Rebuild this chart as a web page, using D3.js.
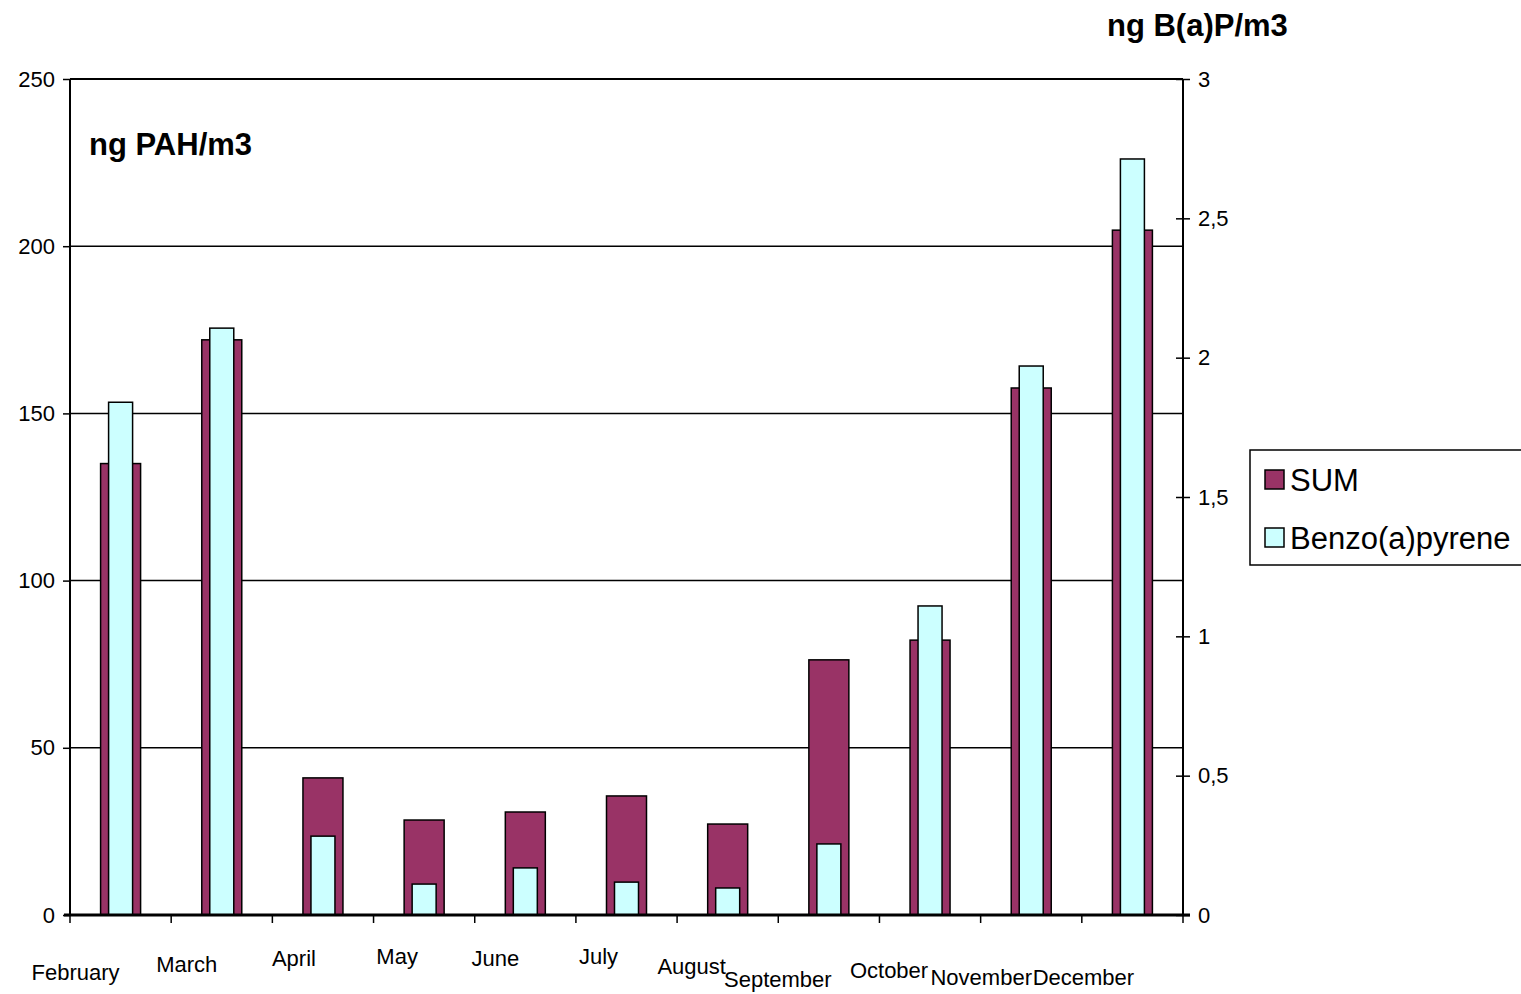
<!DOCTYPE html>
<html>
<head>
<meta charset="utf-8">
<script src="https://cdn.jsdelivr.net/npm/d3@7"></script>
<style>
  html, body { margin: 0; padding: 0; background: #fff; }
  svg { display: block; font-family: "Liberation Sans", Arial, sans-serif; }
</style>
</head>
<body>
<svg id="chart" width="1521" height="994"></svg>
<script>
// Monthly concentrations
const months = ["February", "March", "April", "May", "June", "July", "August",
                "September", "October", "November", "December"];
const sumPAH = [135, 172, 41, 28.4, 30.8, 35.6, 27.2, 76.3, 82.2, 157.6, 204.8];      // ng PAH/m3
const benzoPyrene = [1.84, 2.106, 0.283, 0.111, 0.169, 0.118, 0.097, 0.255, 1.109, 1.97, 2.713]; // ng B(a)P/m3
const leftTicks = [0, 50, 100, 150, 200, 250];
const rightTicks = [0, 0.5, 1, 1.5, 2, 2.5, 3];
const seriesNames = ["SUM", "Benzo(a)pyrene"];

// Staggered month label placement (offset from category centre, baseline y)
const labelShift = [
  [-45, 980], [-35, 972], [-29, 966], [-27, 964], [-30, 966], [-28, 964],
  [-36, 974], [-51, 987], [-41, 978], [-50, 985], [-49, 985]
];

const colors = { sum: "#993366", bap: "#CCFFFF" };
const svg = d3.select("#chart");
const m = { left: 70, right: 1183, top: 79, bottom: 915 };

const x = d3.scaleBand().domain(months).range([m.left, m.right]).paddingInner(0).paddingOuter(0);
const yL = d3.scaleLinear().domain([0, 250]).range([m.bottom, m.top]);
const yR = d3.scaleLinear().domain([0, 3]).range([m.bottom, m.top]);

// Horizontal gridlines
svg.append("g").selectAll("line").data(leftTicks.filter(d => d > 0)).join("line")
  .attr("x1", m.left).attr("x2", m.right)
  .attr("y1", d => yL(d)).attr("y2", d => yL(d))
  .attr("stroke", "#000").attr("stroke-width", 1.5);

// Bars
const sumW = 40, bapW = 24;
svg.append("g").selectAll("rect").data(months).join("rect")
  .attr("x", d => x(d) + x.bandwidth() / 2 - sumW / 2)
  .attr("width", sumW)
  .attr("y", (d, i) => yL(sumPAH[i]))
  .attr("height", (d, i) => yL(0) - yL(sumPAH[i]))
  .attr("fill", colors.sum).attr("stroke", "#000").attr("stroke-width", 1.5);

svg.append("g").selectAll("rect").data(months).join("rect")
  .attr("x", d => x(d) + x.bandwidth() / 2 - bapW / 2)
  .attr("width", bapW)
  .attr("y", (d, i) => yR(benzoPyrene[i]))
  .attr("height", (d, i) => yR(0) - yR(benzoPyrene[i]))
  .attr("fill", colors.bap).attr("stroke", "#000").attr("stroke-width", 1.5);

// Frame: left, right and top borders
svg.append("line").attr("x1", m.left).attr("x2", m.left).attr("y1", m.top).attr("y2", m.bottom)
  .attr("stroke", "#000").attr("stroke-width", 2);
svg.append("line").attr("x1", m.right).attr("x2", m.right).attr("y1", m.top).attr("y2", m.bottom)
  .attr("stroke", "#000").attr("stroke-width", 2);
svg.append("line").attr("x1", m.left).attr("x2", m.right).attr("y1", m.top).attr("y2", m.top)
  .attr("stroke", "#000").attr("stroke-width", 2);

// Left axis
const leftAxis = d3.axisLeft(yL).tickValues(leftTicks).tickSize(7).tickPadding(8).tickFormat(d3.format("d"));
const gL = svg.append("g").attr("transform", `translate(${m.left},0)`).call(leftAxis);
gL.select(".domain").remove();
gL.selectAll("line").attr("stroke", "#000").attr("stroke-width", 1.5);
gL.selectAll("text").attr("font-size", 22).attr("fill", "#000").attr("font-family", "Liberation Sans, Arial, sans-serif");

// Right axis (ticks cross the axis line)
const rightAxis = d3.axisRight(yR).tickValues(rightTicks).tickSize(7).tickPadding(8)
  .tickFormat(d => d3.format("~g")(d).replace(".", ","));
const gR = svg.append("g").attr("transform", `translate(${m.right},0)`).call(rightAxis);
gR.select(".domain").remove();
gR.selectAll("line").attr("x1", -7).attr("stroke", "#000").attr("stroke-width", 1.5);
gR.selectAll("text").attr("font-size", 22).attr("fill", "#000").attr("font-family", "Liberation Sans, Arial, sans-serif");

// Category axis at zero
const boundaries = months.map(d => x(d)).concat([m.right]);
svg.append("g").selectAll("line").data(boundaries).join("line")
  .attr("x1", d => d).attr("x2", d => d)
  .attr("y1", m.bottom).attr("y2", m.bottom + 8)
  .attr("stroke", "#000").attr("stroke-width", 1.5);
svg.append("line").attr("x1", m.left - 6).attr("x2", m.right + 7)
  .attr("y1", m.bottom).attr("y2", m.bottom)
  .attr("stroke", "#000").attr("stroke-width", 3);

svg.append("g").selectAll("text").data(months).join("text")
  .attr("x", (d, i) => x(d) + x.bandwidth() / 2 + labelShift[i][0])
  .attr("y", (d, i) => labelShift[i][1])
  .attr("text-anchor", "middle").attr("font-size", 22).attr("fill", "#000")
  .text(d => d);

// Axis titles
svg.append("text").attr("x", 89).attr("y", 155)
  .attr("font-size", 31).attr("font-weight", "bold").text("ng PAH/m3");
svg.append("text").attr("x", 1107).attr("y", 36)
  .attr("font-size", 31).attr("font-weight", "bold").text("ng B(a)P/m3");

// Legend
const lg = svg.append("g");
lg.append("rect").attr("x", 1250).attr("y", 450).attr("width", 290).attr("height", 115)
  .attr("fill", "#fff").attr("stroke", "#000").attr("stroke-width", 1.5);
const legendFill = [colors.sum, colors.bap];
const items = lg.selectAll("g.item").data(seriesNames).join("g").attr("class", "item")
  .attr("transform", (d, i) => `translate(1265, ${470 + i * 58})`);
items.append("rect").attr("width", 19).attr("height", 19)
  .attr("fill", (d, i) => legendFill[i]).attr("stroke", "#000").attr("stroke-width", 1.5);
items.append("text").attr("x", 25).attr("y", 21).attr("font-size", 31).attr("fill", "#000").text(d => d);
</script>
</body>
</html>
